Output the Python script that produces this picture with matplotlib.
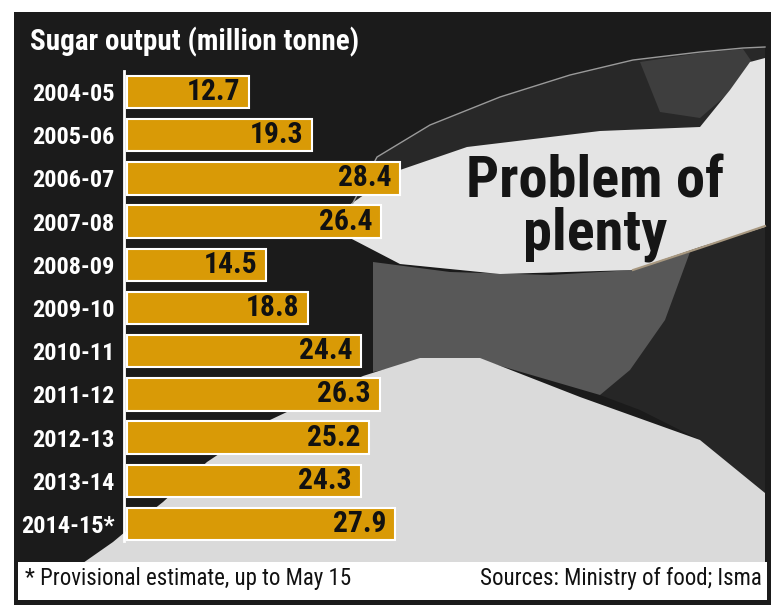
import matplotlib
matplotlib.use("Agg")
import matplotlib.pyplot as plt
from matplotlib import font_manager
from matplotlib.patches import Rectangle, Polygon

# ---- data ----
seasons = ["2004-05", "2005-06", "2006-07", "2007-08", "2008-09", "2009-10",
           "2010-11", "2011-12", "2012-13", "2013-14", "2014-15*"]
output = [12.7, 19.3, 28.4, 26.4, 14.5, 18.8, 24.4, 26.3, 25.2, 24.3, 27.9]
title = "Sugar output (million tonne)"
headline = ["Problem of", "plenty"]
note = "* Provisional estimate, up to May 15"
source = "Sources: Ministry of food; Isma"

# ---- fonts ----
names = {f.name for f in font_manager.fontManager.ttflist}
cond = None
for n in ["Roboto Condensed", "Liberation Sans Narrow", "Open Sans Condensed",
          "Arial Narrow", "DejaVu Sans Condensed"]:
    if n in names:
        cond = n
        break
if cond is None:
    cond = "DejaVu Sans"
FONT = [cond, "DejaVu Sans"]
STRETCH = "condensed"

W, H = 780, 611
fig = plt.figure(figsize=(W / 100, H / 100), dpi=100, facecolor="white")

# ---- background "photo" layer in pixel coordinates ----
bg = fig.add_axes([0, 0, 1, 1], zorder=0)
bg.set_xlim(0, W)
bg.set_ylim(H, 0)
bg.axis("off")
bg.add_patch(Rectangle((14, 12), 757, 593, facecolor="#1b1b1b", edgecolor="none"))

spoon_bottom = [(765, 227), (700, 247), (633, 270), (500, 274), (400, 264), (350, 238)]
# spoon bowl (dark interior)
bg.add_patch(Polygon([(345, 218), (377, 157), (430, 125), (500, 97), (570, 75), (633, 60),
                      (700, 52), (743, 48), (765, 47)] + spoon_bottom, closed=True,
                     facecolor="#282828", edgecolor="none"))
bg.plot([345, 377, 430, 500, 570, 633, 700, 743, 765],
        [218, 157, 125, 97, 75, 60, 52, 48, 47], color="#9a9a9a", lw=1.0)
# speckled upper-right part of spoon
bg.add_patch(Polygon([(640, 62), (700, 53), (743, 49), (752, 62), (730, 92), (700, 118),
                      (660, 112)], closed=True, facecolor="#3e3e3e", edgecolor="none"))
# falling sugar (sparse, right)
bg.add_patch(Polygon([(633, 270), (700, 247), (765, 227), (765, 493), (700, 440), (640, 410),
                      (600, 395)], closed=True, facecolor="#262626", edgecolor="none"))
# falling sugar (dense)
bg.add_patch(Polygon([(373, 262), (450, 272), (550, 275), (633, 270), (690, 252),
                      (665, 320), (630, 370), (600, 395), (480, 360), (420, 362), (373, 372)],
                     closed=True, facecolor="#585858", edgecolor="none"))
# sugar in spoon
bg.add_patch(Polygon([(345, 208), (400, 170), (467, 147), (600, 131), (700, 127), (730, 90),
                      (750, 62), (765, 58)] + spoon_bottom, closed=True,
                     facecolor="#e4e4e4", edgecolor="none"))
bg.plot([633, 700, 765], [270, 248, 226], color="#a89880", lw=1.5)
# sugar pile
bg.add_patch(Polygon([(83, 563), (113, 542), (125, 532), (163, 502), (207, 462), (270, 420),
                      (363, 376), (420, 358), (480, 358), (580, 397), (700, 440), (765, 493),
                      (765, 563)], closed=True, facecolor="#dadada", edgecolor="none"))
# footer band
bg.add_patch(Rectangle((18, 562), 749, 38, facecolor="white", edgecolor="none"))

bg.text(30, 42, title, color="white", fontsize=21, fontweight="bold",
        family=FONT, fontstretch=STRETCH, va="center", ha="left")
bg.text(595, 197, headline[0], color="#151515", fontsize=42, fontweight="bold",
        family=FONT, fontstretch=STRETCH, va="baseline", ha="center")
bg.text(595, 250, headline[1], color="#151515", fontsize=42, fontweight="bold",
        family=FONT, fontstretch=STRETCH, va="baseline", ha="center")
bg.text(25, 579, note, color="#111111", fontsize=16.5, family=FONT, fontstretch=STRETCH,
        va="center", ha="left")
bg.text(762, 579, source, color="#111111", fontsize=16.5, family=FONT, fontstretch=STRETCH,
        va="center", ha="right")

# ---- bar chart ----
px_per_unit = 9.61
x0_px, x1_px = 124, 767
y_top_px, y_bot_px = 71, 563
row0_px, row_step = 92, 43.2
xmin = -3 / px_per_unit
xmax = xmin + (x1_px - x0_px) / px_per_unit
ytop = (y_top_px - row0_px) / row_step
ybot = (y_bot_px - row0_px) / row_step

ax = fig.add_axes([x0_px / W, (H - y_bot_px) / H, (x1_px - x0_px) / W, (y_bot_px - y_top_px) / H],
                  zorder=1)
ax.patch.set_alpha(0)
ypos = list(range(len(seasons)))
ax.barh(ypos, output, height=0.75, color="#d99a06", edgecolor="white", linewidth=1.5)
ax.set_xlim(xmin, xmax)
ax.set_ylim(ybot, ytop)
for s in ["top", "right", "bottom"]:
    ax.spines[s].set_visible(False)
ax.spines["left"].set_color("white")
ax.spines["left"].set_linewidth(2)
ax.spines["left"].set_bounds(ytop, len(seasons) - 1 + 0.4)
ax.set_xticks([])
ax.set_yticks(ypos)
ax.set_yticklabels(seasons)
ax.tick_params(axis="y", length=0, pad=7)
for lab in ax.get_yticklabels():
    lab.set_color("white")
    lab.set_fontsize(17.5)
    lab.set_fontweight("bold")
    lab.set_family(FONT)
    lab.set_fontstretch(STRETCH)
for y, v in zip(ypos, output):
    ax.text(v - 0.9, y, f"{v}", ha="right", va="center", color="#111111",
            fontsize=21.3, fontweight="bold", family=FONT, fontstretch=STRETCH)

fig.savefig("out.png", dpi=100, facecolor="white")
